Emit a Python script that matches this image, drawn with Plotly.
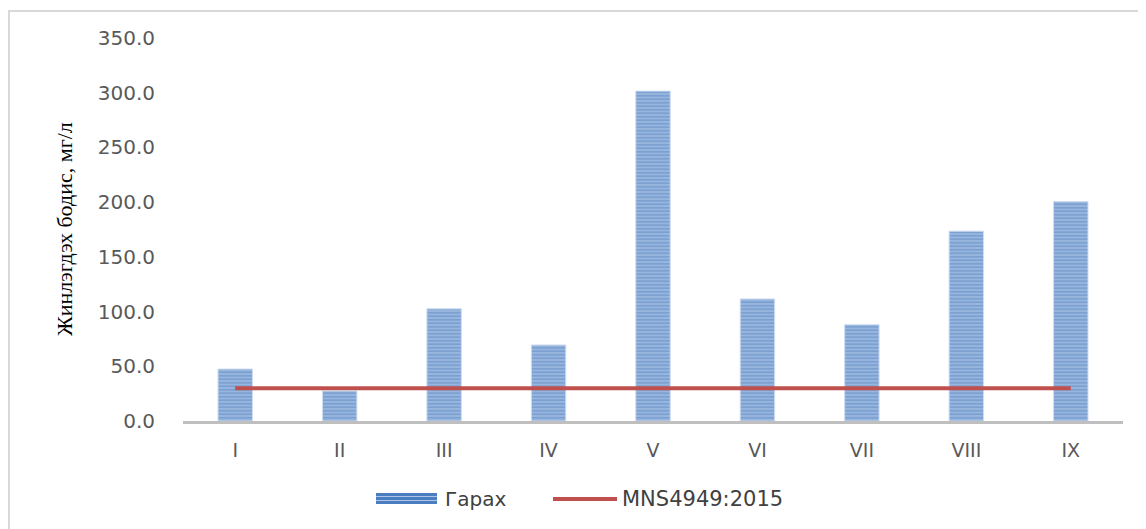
import plotly.graph_objects as go

categories = ["I", "II", "III", "IV", "V", "VI", "VII", "VIII", "IX"]
garah = [47.5, 27.5, 102.5, 69.5, 301.5, 111.5, 88.0, 173.5, 200.5]
standard = [30, 30, 30, 30, 30, 30, 30, 30, 30]
y_ticks = [0, 50, 100, 150, 200, 250, 300, 350]
series_names = ["Гарах", "MNS4949:2015"]
y_title = "Жинлэгдэх бодис, мг/л"

# page offset (body margin) compensation
OFF = 8
W, H = 1146 - OFF, 529 - OFF
X0, X1, Y0, Y1 = 183, 1123, 38, 421  # target plot area in page pixels
L, T = X0 - OFF, Y0 - OFF
R = (OFF + W) - X1
B = (OFF + H) - Y1
pw, ph = X1 - X0, Y1 - Y0

def px(x):
    return (x - X0) / pw

def py(y):
    return (Y1 - y) / ph

BLUE = "#4A7EC0"
RED = "#C0504D"
LIGHT = "#ADC4E6"

fig = go.Figure()
fig.add_trace(go.Bar(
    x=categories, y=garah, name=series_names[0], showlegend=False,
    marker=dict(
        color=LIGHT,
        line=dict(color="#D0DDF0", width=1),
        pattern=dict(shape="-", fgcolor=BLUE, bgcolor=LIGHT, size=3.5, solidity=0.72),
    ),
))
fig.add_trace(go.Scatter(
    x=categories, y=standard, name=series_names[1], mode="lines", showlegend=False,
    line=dict(color=RED, width=4),
))

# chart border
fig.add_shape(type="rect", xref="paper", yref="paper",
              x0=px(9), x1=px(1150), y0=py(540), y1=py(11),
              line=dict(color="#D9D9D9", width=2), fillcolor="rgba(0,0,0,0)", layer="below")

# manual legend
fig.add_shape(type="rect", xref="paper", yref="paper",
              x0=px(376), x1=px(437), y0=py(504), y1=py(493),
              line=dict(width=0), fillcolor=BLUE)
for yy in (496.5, 500.5):
    fig.add_shape(type="line", xref="paper", yref="paper",
                  x0=px(376), x1=px(437), y0=py(yy), y1=py(yy),
                  line=dict(color=LIGHT, width=1))
fig.add_shape(type="line", xref="paper", yref="paper",
              x0=px(553), x1=px(617), y0=py(499), y1=py(499),
              line=dict(color=RED, width=4))
fig.add_annotation(xref="paper", yref="paper", x=px(443), y=py(499), text=series_names[0],
                   showarrow=False, xanchor="left", yanchor="middle",
                   font=dict(family="DejaVu Sans", size=20, color="#404040"))
fig.add_annotation(xref="paper", yref="paper", x=px(620), y=py(499), text=series_names[1],
                   showarrow=False, xanchor="left", yanchor="middle",
                   font=dict(family="DejaVu Sans", size=21, color="#404040"))

# y axis title
fig.add_annotation(xref="paper", yref="paper", x=px(64), y=py(229), text=y_title,
                   showarrow=False, textangle=-90, xanchor="center", yanchor="middle",
                   font=dict(family="Liberation Serif", size=22, color="#000000"))

fig.update_layout(
    width=W, height=H,
    margin=dict(l=L, r=R, t=T, b=B, autoexpand=False),
    paper_bgcolor="white", plot_bgcolor="white",
    bargap=0.67,
    showlegend=False,
    font=dict(family="DejaVu Sans", size=19, color="#595959"),
    xaxis=dict(showline=True, linecolor="#BFBFBF", linewidth=2.5, ticks="", showgrid=False,
               ticklabelstandoff=10,
               tickfont=dict(family="DejaVu Sans", size=19, color="#595959")),
    yaxis=dict(range=[0, 350], tickvals=y_ticks, ticktext=[f"{v:.1f}" for v in y_ticks],
               showgrid=False, zeroline=False, showline=False, ticks="",
               ticklabelstandoff=27,
               tickfont=dict(family="DejaVu Sans", size=20, color="#595959")),
)

fig.write_html("out.html")
